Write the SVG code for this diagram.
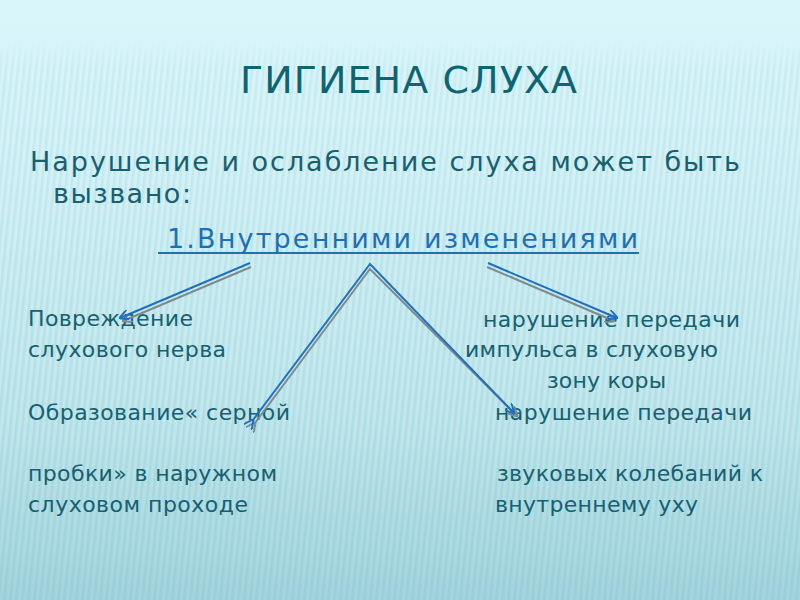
<svg xmlns="http://www.w3.org/2000/svg" width="800" height="600" viewBox="0 0 800 600">
<defs>
  <linearGradient id="bg" x1="0" y1="0" x2="0" y2="1">
    <stop offset="0" stop-color="#d9f6fb"/>
    <stop offset="0.3" stop-color="#d2f1f6"/>
    <stop offset="0.7" stop-color="#c0e7ed"/>
    <stop offset="1" stop-color="#a3d4dc"/>
  </linearGradient>
  <linearGradient id="fade" x1="0" y1="0" x2="0" y2="1">
    <stop offset="0" stop-color="#fff" stop-opacity="0"/>
    <stop offset="0.07" stop-color="#fff" stop-opacity="0"/>
    <stop offset="0.12" stop-color="#fff" stop-opacity="0.5"/>
    <stop offset="1" stop-color="#fff" stop-opacity="1"/>
  </linearGradient>
  <mask id="m"><rect width="800" height="600" fill="url(#fade)"/></mask>
  <pattern id="stripes" width="6" height="600" patternUnits="userSpaceOnUse" patternTransform="skewX(-6)">
    <rect x="0" y="0" width="2.5" height="600" fill="#86c2cb" fill-opacity="0.3"/>
  </pattern>
  <marker id="ah" viewBox="0 0 10 10" refX="9" refY="5" markerWidth="5" markerHeight="5" orient="auto" markerUnits="strokeWidth">
    <path d="M0,0 L10,5 L0,10" fill="none" stroke="#1f6fc0" stroke-width="2"/>
  </marker>
  <marker id="ahs" viewBox="0 0 10 10" refX="9" refY="5" markerWidth="5" markerHeight="5" orient="auto" markerUnits="strokeWidth">
    <path d="M0,0 L10,5 L0,10" fill="none" stroke="#7d8a8e" stroke-width="2"/>
  </marker>
</defs>
<style>
  .title { font-family: "DejaVu Sans", Verdana, sans-serif; font-size: 38px; fill: #0f6474; }
  .body { font-family: "DejaVu Sans", Verdana, sans-serif; font-size: 27px; fill: #17606f; }
  .sub { font-family: "DejaVu Sans", Verdana, sans-serif; font-size: 27px; fill: #1f6fb5; }
  .small { font-family: "DejaVu Sans", Verdana, sans-serif; font-size: 22px; fill: #17606f; }
  .ln { fill: none; stroke: #1f6fc0; stroke-width: 2; }
  .sh { fill: none; stroke: #7d8a8e; stroke-width: 2; }
</style>
<rect width="800" height="600" fill="url(#bg)"/>
<rect width="800" height="600" fill="url(#stripes)" mask="url(#m)"/>

<g id="title"><text class="title" x="240" y="93" textLength="337" lengthAdjust="spacing">ГИГИЕНА СЛУХА</text></g>
<g id="intro">
  <text class="body" x="30" y="171" textLength="710" lengthAdjust="spacing">Нарушение и ослабление слуха может быть</text>
  <text class="body" x="53" y="203" textLength="138" lengthAdjust="spacing">вызвано:</text>
</g>
<g id="root">
  <text class="sub" x="167" y="248" textLength="471" lengthAdjust="spacing">1.Внутренними изменениями</text>
  <line x1="158" y1="253" x2="639" y2="253" stroke="#1f6fb5" stroke-width="2"/>
</g>
<g id="left1">
  <text class="small" x="28" y="326" textLength="165" lengthAdjust="spacing">Повреждение</text>
  <text class="small" x="28" y="357" textLength="198" lengthAdjust="spacing">слухового нерва</text>
</g>
<g id="left2">
  <text class="small" x="28" y="420" textLength="262" lengthAdjust="spacing">Образование« серной</text>
  <text class="small" x="28" y="481" textLength="249" lengthAdjust="spacing">пробки» в наружном</text>
  <text class="small" x="28" y="512" textLength="220" lengthAdjust="spacing">слуховом проходе</text>
</g>
<g id="right1">
  <text class="small" x="483" y="327" textLength="257" lengthAdjust="spacing">нарушение передачи</text>
  <text class="small" x="465" y="357" textLength="253" lengthAdjust="spacing">импульса в слуховую</text>
  <text class="small" x="547" y="388" textLength="119" lengthAdjust="spacing">зону коры</text>
</g>
<g id="right2">
  <text class="small" x="495" y="420" textLength="257" lengthAdjust="spacing">нарушение передачи</text>
  <text class="small" x="497" y="481" textLength="266" lengthAdjust="spacing">звуковых колебаний к</text>
  <text class="small" x="495" y="512" textLength="203" lengthAdjust="spacing">внутреннему уху</text>
</g>
<g id="connectors">
  <line class="sh" x1="251" y1="267" x2="123" y2="321" marker-end="url(#ahs)"/>
  <line class="ln" x1="250" y1="263" x2="120" y2="318" marker-end="url(#ah)"/>
  <polyline class="sh" points="255,423 370,269 517,416" marker-start="url(#ahs)" marker-end="url(#ahs)"/>
  <polyline class="ln" points="253,420 370,264 514,413" marker-start="url(#ah)" marker-end="url(#ah)"/>
  <line class="sh" x1="487" y1="267" x2="614" y2="321" marker-end="url(#ahs)"/>
  <line class="ln" x1="488" y1="263" x2="617" y2="318" marker-end="url(#ah)"/>
</g>
</svg>
